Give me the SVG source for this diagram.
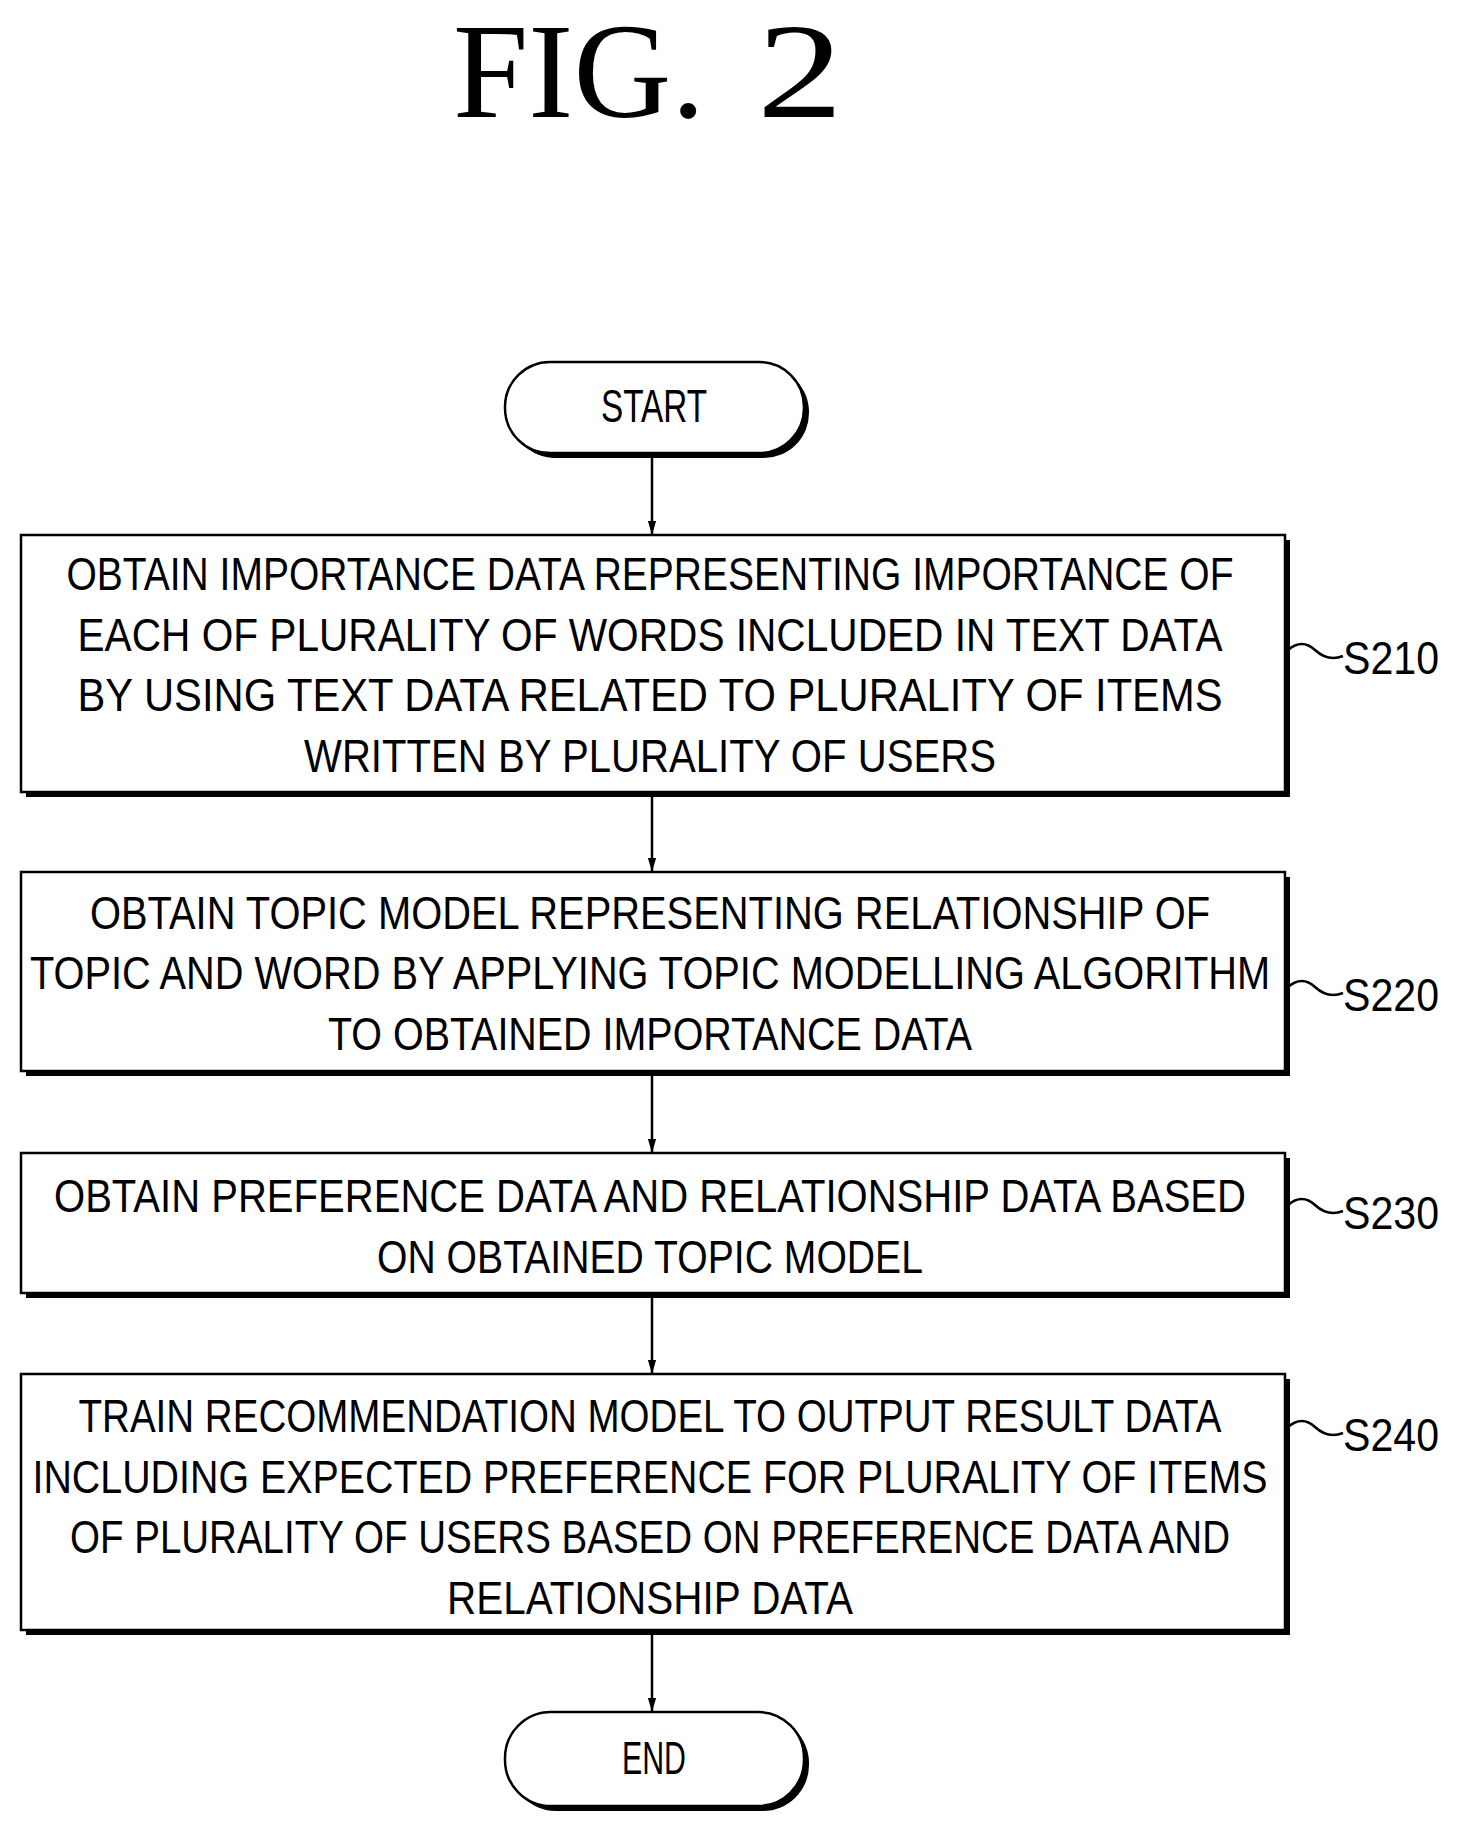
<svg xmlns="http://www.w3.org/2000/svg" width="1460" height="1834" viewBox="0 0 1460 1834">
<style>
.b{fill:#fff;stroke:#000;stroke-width:2.5}
.s{fill:#000}
.t{font-family:"Liberation Sans",Arial,sans-serif;font-size:46px;text-anchor:middle;fill:#000}
.l{font-family:"Liberation Sans",Arial,sans-serif;font-size:46px;fill:#000}
.c{stroke:#000;stroke-width:2.5;fill:none}
.h{font-family:"Liberation Serif",serif;font-size:135px;fill:#000}
</style>
<defs><marker id="ar" markerWidth="14" markerHeight="24" refX="24" refY="7" orient="auto" markerUnits="userSpaceOnUse" viewBox="0 0 24 14"><path d="M0,0 L24,7 L0,14 Z" fill="#000"/></marker></defs>
<g id="title"><text class="h" x="453" y="117" textLength="252" lengthAdjust="spacingAndGlyphs">FIG.</text><text class="h" x="757" y="117" textLength="86" lengthAdjust="spacingAndGlyphs">2</text></g>
<g id="start"><rect x="510" y="367" width="299" height="91" rx="45" class="s"/><rect x="505" y="362" width="299" height="91" rx="45" class="b"/><text class="t" x="654" y="422" textLength="106" lengthAdjust="spacingAndGlyphs">START</text></g>
<g id="s210"><rect x="26" y="540" width="1264" height="257" class="s"/><rect x="21" y="535" width="1264" height="257" class="b"/>
<text class="t" x="650" y="590" textLength="1167" lengthAdjust="spacingAndGlyphs">OBTAIN IMPORTANCE DATA REPRESENTING IMPORTANCE OF</text>
<text class="t" x="650" y="651" textLength="1145" lengthAdjust="spacingAndGlyphs">EACH OF PLURALITY OF WORDS INCLUDED IN TEXT DATA</text>
<text class="t" x="650" y="711" textLength="1145" lengthAdjust="spacingAndGlyphs">BY USING TEXT DATA RELATED TO PLURALITY OF ITEMS</text>
<text class="t" x="650" y="772" textLength="692" lengthAdjust="spacingAndGlyphs">WRITTEN BY PLURALITY OF USERS</text>
<path class="c" d="M1288,650 q14,-12 27,0 t28,6"/><text class="l" x="1343" y="674" textLength="96" lengthAdjust="spacingAndGlyphs">S210</text></g>
<g id="s220"><rect x="26" y="877" width="1264" height="199" class="s"/><rect x="21" y="872" width="1264" height="199" class="b"/>
<text class="t" x="650" y="929" textLength="1120" lengthAdjust="spacingAndGlyphs">OBTAIN TOPIC MODEL REPRESENTING RELATIONSHIP OF</text>
<text class="t" x="650" y="989" textLength="1240" lengthAdjust="spacingAndGlyphs">TOPIC AND WORD BY APPLYING TOPIC MODELLING ALGORITHM</text>
<text class="t" x="650" y="1050" textLength="644" lengthAdjust="spacingAndGlyphs">TO OBTAINED IMPORTANCE DATA</text>
<path class="c" d="M1288,987 q14,-12 27,0 t28,6"/><text class="l" x="1343" y="1011" textLength="96" lengthAdjust="spacingAndGlyphs">S220</text></g>
<g id="s230"><rect x="26" y="1158" width="1264" height="140" class="s"/><rect x="21" y="1153" width="1264" height="140" class="b"/>
<text class="t" x="650" y="1212" textLength="1192" lengthAdjust="spacingAndGlyphs">OBTAIN PREFERENCE DATA AND RELATIONSHIP DATA BASED</text>
<text class="t" x="650" y="1273" textLength="546" lengthAdjust="spacingAndGlyphs">ON OBTAINED TOPIC MODEL</text>
<path class="c" d="M1288,1205 q14,-12 27,0 t28,6"/><text class="l" x="1343" y="1229" textLength="96" lengthAdjust="spacingAndGlyphs">S230</text></g>
<g id="s240"><rect x="26" y="1379" width="1264" height="256" class="s"/><rect x="21" y="1374" width="1264" height="256" class="b"/>
<text class="t" x="650" y="1432" textLength="1143" lengthAdjust="spacingAndGlyphs">TRAIN RECOMMENDATION MODEL TO OUTPUT RESULT DATA</text>
<text class="t" x="650" y="1493" textLength="1235" lengthAdjust="spacingAndGlyphs">INCLUDING EXPECTED PREFERENCE FOR PLURALITY OF ITEMS</text>
<text class="t" x="650" y="1553" textLength="1160" lengthAdjust="spacingAndGlyphs">OF PLURALITY OF USERS BASED ON PREFERENCE DATA AND</text>
<text class="t" x="650" y="1614" textLength="406" lengthAdjust="spacingAndGlyphs">RELATIONSHIP DATA</text>
<path class="c" d="M1288,1427 q14,-12 27,0 t28,6"/><text class="l" x="1343" y="1451" textLength="96" lengthAdjust="spacingAndGlyphs">S240</text></g>
<g id="end"><rect x="510" y="1717" width="299" height="94" rx="46" class="s"/><rect x="505" y="1712" width="299" height="94" rx="46" class="b"/><text class="t" x="654" y="1774" textLength="64" lengthAdjust="spacingAndGlyphs">END</text></g>
<g id="connectors">
<line class="c" x1="652" y1="458" x2="652" y2="535" marker-end="url(#ar)"/>
<line class="c" x1="652" y1="797" x2="652" y2="872" marker-end="url(#ar)"/>
<line class="c" x1="652" y1="1076" x2="652" y2="1153" marker-end="url(#ar)"/>
<line class="c" x1="652" y1="1298" x2="652" y2="1374" marker-end="url(#ar)"/>
<line class="c" x1="652" y1="1635" x2="652" y2="1712" marker-end="url(#ar)"/>
</g>
</svg>
